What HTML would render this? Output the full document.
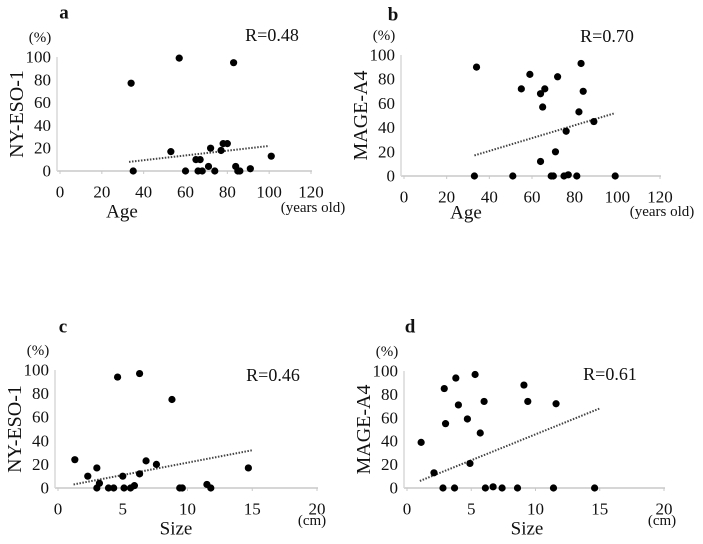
<!DOCTYPE html>
<html><head><meta charset="utf-8"><style>
body{margin:0;background:#fff;}
svg{display:block;font-family:"Liberation Serif",serif;}
</style></head><body>
<svg id="chart" width="703" height="544" viewBox="0 0 703 544"></svg>
<script>
// Panel a: NY-ESO-1 vs Age
const aAge=[34,35,57,83,53,65,67,60,66,68,71,72,74,77,78,80,84,85,86,91,101];
const aVal=[77,0,99,95,17,10,10,0,0,0,4,20,0,18,24,24,4,0,0,2,13];
const aTrend=[[33,8],[100,22]];
// Panel b: MAGE-A4 vs Age
const bAge=[34,33,51,55,59,64,66,65,64,72,71,69,70,75,77,76,81,82,83,84,89,99];
const bVal=[90,0,0,72,84,68,72,57,12,82,20,0,0,0,1,37,0,53,93,70,45,0];
const bTrend=[[33,17],[99,52]];
// Panel c: NY-ESO-1 vs Size
const cSize=[1.3,2.3,3.0,3.0,3.2,3.9,4.3,4.6,5.0,5.1,5.6,5.9,6.3,6.3,6.8,7.6,8.8,9.4,9.6,11.5,11.8,14.7];
const cVal=[24,10,17,0,4,0,0,94,10,0,0,2,12,97,23,20,75,0,0,3,0,17];
const cTrend=[[1.2,3],[15,32]];
// Panel d: MAGE-A4 vs Size
const dSize=[1.1,2.1,2.8,2.9,3.0,3.7,3.8,4.0,4.7,4.9,5.3,5.7,6.0,6.1,6.7,7.4,8.6,9.1,9.4,11.4,11.6,14.6];
const dVal=[39,13,0,85,55,0,94,71,59,21,97,47,74,0,1,0,0,88,74,0,72,0];
const dTrend=[[1,6],[15,68]];
const ageTicks=[0,20,40,60,80,100,120];
const sizeTicks=[0,5,10,15,20];
const yTicks=[0,20,40,60,80,100];

const svg=document.getElementById('chart');
const NS='http://www.w3.org/2000/svg';
function mk(tag,attrs,parent){const e=document.createElementNS(NS,tag);for(const k in attrs)e.setAttribute(k,attrs[k]);(parent||svg).appendChild(e);return e;}
function txt(s,x,y,size,parent,anchor){const t=mk('text',{x:x,y:y,'font-size':size,'text-anchor':anchor||'middle','dominant-baseline':'central',fill:'#111','font-family':'Liberation Serif, serif'},parent);t.textContent=s;return t;}

function panel(p){
  const g=mk('g',{});
  
  
  const sx=v=>p.x0+(v-p.xmin)/(p.xmax-p.xmin)*(p.x1-p.x0);
  const sy=v=>p.y0-(v/100)*(p.y0-p.y1);
  const axes=mk('g',{},g);
  
  
  mk('line',{x1:p.x0-3,y1:p.y0,x2:p.x1+1,y2:p.y0,stroke:'#c8c8c8','stroke-width':1.5},axes);
  mk('line',{x1:p.x0-3,y1:p.y0,x2:p.x0-3,y2:p.y1,stroke:'#d8d8d8','stroke-width':1.5},axes);
  p.xt.forEach(v=>{
    mk('line',{x1:sx(v),y1:p.y0,x2:sx(v),y2:p.y0+3,stroke:'#c8c8c8'},axes);
    const t=txt(String(v),sx(v),p.y0+21,17,axes);
    
    
  });
  yTicks.forEach(v=>{
    const t=txt(String(v),p.x0-9,sy(v),17,axes,'end');
    
    
  });
  const tr=mk('line',{x1:sx(p.trend[0][0]),y1:sy(p.trend[0][1]),x2:sx(p.trend[1][0]),y2:sy(p.trend[1][1]),stroke:'#444','stroke-width':2,'stroke-dasharray':'1.5,1.5'},g);
  
  
  p.xs.forEach((v,i)=>{
    const c=mk('circle',{cx:sx(v),cy:sy(p.ys[i]),r:3.6,fill:'#000'},g);
    
    
  });
  const lt=txt(p.id,p.lx,p.ly,19,g);lt.setAttribute('font-weight','bold');
  const pc=txt('(%)',p.x0-20,p.y1-19,15,g);
  const rr=txt(p.r,p.rx,p.ry,18,g);
  const yt=txt(p.ytitle,0,0,20,g);yt.setAttribute('transform','translate('+(p.x0-43)+','+((p.y0+p.y1)/2)+') rotate(-90)');
  
  const xt=txt(p.xtitle,p.xtx,p.xty,19,g);
  const un=txt(p.unit,p.ux,p.uy,15,g);
}
panel({id:'a',xs:aAge,ys:aVal,trend:aTrend,xt:ageTicks,xmin:0,xmax:120,x0:60,x1:311,y0:171,y1:57,lx:64,ly:13,r:'R=0.48',rx:272,ry:35,ytitle:'NY-ESO-1',xtitle:'Age',xtx:122,xty:212,unit:'(years old)',ux:313,uy:208});
panel({id:'b',xs:bAge,ys:bVal,trend:bTrend,xt:ageTicks,xmin:0,xmax:120,x0:404,x1:660,y0:176,y1:55,lx:393,ly:15,r:'R=0.70',rx:607,ry:36,ytitle:'MAGE-A4',xtitle:'Age',xtx:466,xty:213,unit:'(years old)',ux:662,uy:212});
panel({id:'c',xs:cSize,ys:cVal,trend:cTrend,xt:sizeTicks,xmin:0,xmax:20,x0:58,x1:317,y0:488,y1:370,lx:63,ly:327,r:'R=0.46',rx:273,ry:375,ytitle:'NY-ESO-1',xtitle:'Size',xtx:176,xty:529,unit:'(cm)',ux:312,uy:521});
panel({id:'d',xs:dSize,ys:dVal,trend:dTrend,xt:sizeTicks,xmin:0,xmax:20,x0:407,x1:664,y0:488,y1:371,lx:410,ly:327,r:'R=0.61',rx:610,ry:374,ytitle:'MAGE-A4',xtitle:'Size',xtx:527,xty:529,unit:'(cm)',ux:662,uy:521});
</script>
</body></html>
